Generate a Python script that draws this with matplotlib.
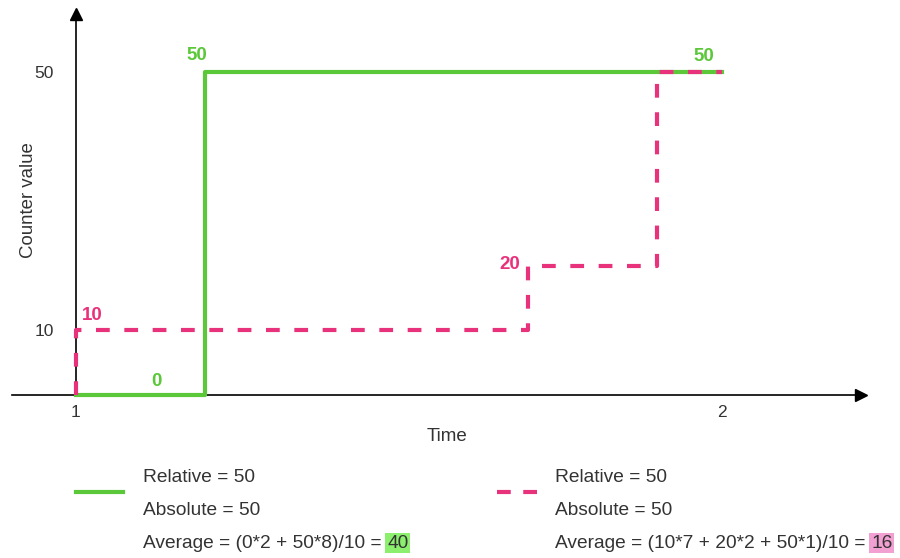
import matplotlib.pyplot as plt
from matplotlib.lines import Line2D

plt.rcParams['font.family'] = ['Liberation Sans', 'DejaVu Sans']

# counter samples (time, value), step changes held until next sample
green_time = [1.0, 1.2, 2.0]
green_value = [0, 50, 50]
pink_time = [1.0, 1.0, 1.7, 1.9, 2.0]
pink_value = [0, 10, 20, 50, 50]

x_ticks = [1, 2]
y_ticks = [10, 50]

green_lines = ["Relative = 50", "Absolute = 50", "Average = (0*2 + 50*8)/10 ="]
green_avg = "40"
pink_lines = ["Relative = 50", "Absolute = 50", "Average = (10*7 + 20*2 + 50*1)/10 ="]
pink_avg = "16"

GREEN = '#5BC83A'
PINK = '#E8327C'
TEXT = '#333333'

fig = plt.figure(figsize=(9, 5.58), dpi=100)
W, H = 900, 558


def fx(px):
    return px / W


def fy(py):
    return 1 - py / H


# axes box from pixel x 12..861, y 14..395 (1 unit time = 646 px, 1 count = 6.46 px)
ax = fig.add_axes([fx(12), fy(395), fx(861) - fx(12), fy(14) - fy(395)])
ax.set_xlim(1 - 64 / 646, 1 + 785 / 646)
ax.set_ylim(0, 381 / 6.46)
for s in ['top', 'right']:
    ax.spines[s].set_visible(False)
ax.spines['left'].set_position(('data', 1))
ax.spines['left'].set_linewidth(1.2)
ax.spines['bottom'].set_linewidth(1.2)
ax.set_xticks(x_ticks)
ax.set_yticks(y_ticks)
ax.tick_params(axis='x', length=0, pad=7, labelsize=12.5, labelcolor=TEXT)
ax.tick_params(axis='y', length=0, pad=16, labelsize=12.5, labelcolor=TEXT)
ax.patch.set_visible(False)

# arrow heads
ax.plot(1, 1, marker='^', color='black', markersize=8.5, transform=ax.get_xaxis_transform(), clip_on=False)
ax.plot(1, 0, marker='>', color='black', markersize=8.5, transform=ax.get_yaxis_transform(), clip_on=False)

ax.step(green_time, green_value, where='post', color=GREEN, lw=3, clip_on=False, zorder=3)
ax.step(pink_time, pink_value, where='post', color=PINK, lw=3, clip_on=False, zorder=4,
        linestyle=(0, (3.3, 3.5)))

# value labels
lab = dict(fontsize=13.5, fontweight='bold', textcoords='offset points', ha='center', va='center')
ax.annotate(str(green_value[0]), (green_time[0], green_value[0]), xytext=(58, 10), color=GREEN, **lab)
ax.annotate(str(green_value[1]), (green_time[1], green_value[1]), xytext=(-6, 12), color=GREEN, **lab)
ax.annotate(str(green_value[2]), (green_time[2], green_value[2]), xytext=(-13, 11), color=GREEN, **lab)
ax.annotate(str(pink_value[1]), (pink_time[1], pink_value[1]), xytext=(12, 11), color=PINK, **lab)
ax.annotate(str(pink_value[2]), (pink_time[2], pink_value[2]), xytext=(-13, 1), color=PINK, **lab)

ax.set_ylabel("Counter value", fontsize=13.4, color=TEXT)
ax.yaxis.set_label_coords(fx(37), fy(200), transform=fig.transFigure)
ax.set_xlabel("Time", fontsize=13.5, color=TEXT)
ax.xaxis.set_label_coords(fx(447), fy(428), transform=fig.transFigure)

# legend blocks
fig.add_artist(Line2D([fx(76), fx(123)], [fy(492), fy(492)], color=GREEN, lw=3))
fig.add_artist(Line2D([fx(497), fx(540)], [fy(492), fy(492)], color=PINK, lw=3,
                      linestyle=(0, (3.3, 3.0))))

hl = {GREEN: '#8CF06E', PINK: '#F2A0D2'}
for x0, lines, avg, col in [(143, green_lines, green_avg, GREEN), (555, pink_lines, pink_avg, PINK)]:
    last = None
    for i, line in enumerate(lines):
        last = fig.text(fx(x0), fy(478 + 32.5 * i), line, fontsize=13.8, color=TEXT, va='center', ha='left')
    ax.annotate(avg, xy=(1, 0.5), xycoords=last, xytext=(4, 0), textcoords='offset points',
                fontsize=13.8, color=TEXT, va='center', ha='left',
                bbox=dict(boxstyle='square,pad=0.1', fc=hl[col], ec='none'))

fig.savefig('out.png', dpi=100)
